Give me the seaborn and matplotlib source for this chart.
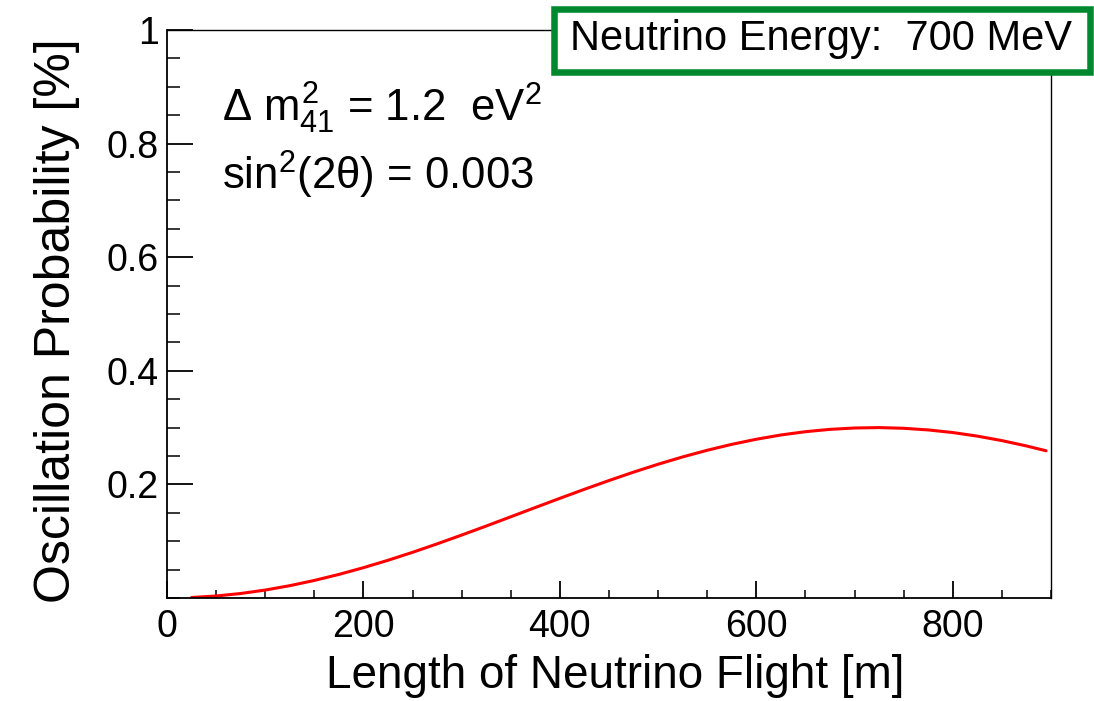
import matplotlib
matplotlib.use("Agg")
import matplotlib.pyplot as plt
from matplotlib.patches import Rectangle
from matplotlib.ticker import MultipleLocator, FixedLocator
import seaborn as sns
import pandas as pd

# ---- data ----
flight_length_m = [25, 50, 75, 100, 125, 150, 175, 200, 225, 250, 275, 300,
                   325, 350, 375, 400, 425, 450, 475, 500, 525, 550, 575, 600,
                   625, 650, 675, 700, 725, 750, 775, 800, 825, 850, 875, 895]
osc_prob_pct = [0.0009, 0.0035, 0.0079, 0.0140, 0.0217, 0.0309, 0.0415, 0.0534,
                0.0664, 0.0804, 0.0953, 0.1108, 0.1267, 0.1430, 0.1593, 0.1755,
                0.1914, 0.2068, 0.2216, 0.2355, 0.2484, 0.2601, 0.2705, 0.2795,
                0.2870, 0.2928, 0.2969, 0.2993, 0.3000, 0.2988, 0.2959, 0.2913,
                0.2850, 0.2771, 0.2677, 0.2592]
x_major_ticks = [0, 200, 400, 600, 800]
x_tick_labels = ["0", "200", "400", "600", "800"]
y_major_ticks = [0.2, 0.4, 0.6, 0.8, 1.0]
y_tick_labels = ["0.2", "0.4", "0.6", "0.8", "1"]
x_label = "Length of Neutrino Flight [m]"
y_label = "Oscillation Probability [%]"
energy_label = "Neutrino Energy:  700 MeV"
param_line1 = r"$\Delta\ m^{2}_{41}$ = 1.2  eV$^{2}$"
param_line2 = r"sin$^{2}$(2$\theta$) = 0.003"

df = pd.DataFrame({"L": flight_length_m, "P": osc_prob_pct})

sns.set_theme(style="white")
plt.rcParams["font.family"] = ["Liberation Sans", "DejaVu Sans"]
plt.rcParams["mathtext.fontset"] = "custom"
plt.rcParams["mathtext.rm"] = "Liberation Sans"
plt.rcParams["mathtext.it"] = "Liberation Sans"
plt.rcParams["mathtext.bf"] = "Liberation Sans:bold"
for key in ("text.color", "axes.labelcolor", "xtick.color", "ytick.color",
            "xtick.labelcolor", "ytick.labelcolor"):
    plt.rcParams[key] = "black"

W, H = 1094, 701
fig = plt.figure(figsize=(W / 100, H / 100), dpi=100)
fig.patch.set_facecolor("white")
ax = fig.add_axes([167 / W, 1 - 598 / H, (1051 - 167) / W, (598 - 30) / H])
ax.set_facecolor("white")

sns.lineplot(data=df, x="L", y="P", ax=ax, color="#ff0000", linewidth=2.2)

ax.set_xlim(0, 900)
ax.set_ylim(0, 1)

ax.xaxis.set_major_locator(FixedLocator(x_major_ticks))
ax.set_xticklabels(x_tick_labels)
ax.xaxis.set_minor_locator(MultipleLocator(50))
ax.yaxis.set_major_locator(FixedLocator(y_major_ticks))
ax.set_yticklabels(y_tick_labels)
ax.yaxis.set_minor_locator(MultipleLocator(0.05))

ax.tick_params(axis="x", which="major", direction="in", length=12.2, width=1.3,
               labelsize=27, pad=8, color="black", labelcolor="black",
               bottom=True, top=False)
ax.tick_params(axis="x", which="minor", direction="in", length=5.8, width=1.1,
               bottom=True, top=False, color="black")
ax.tick_params(axis="y", which="major", direction="in", length=18.7, width=1.3,
               labelsize=27, pad=6, color="black", labelcolor="black",
               left=True, right=False)
ax.tick_params(axis="y", which="minor", direction="in", length=9.4, width=1.1,
               left=True, right=False, color="black")

for side, sp in ax.spines.items():
    sp.set_visible(True)
    sp.set_color("black")
    sp.set_linewidth(1.3 if side in ("left", "bottom") else 1.0)

ax.set_xlabel(x_label, fontsize=33, ha="center", va="baseline", color="black")
ax.xaxis.set_label_coords((615 - 167) / 884, (598 - 688) / 568)
ax.set_ylabel(y_label, fontsize=36, ha="center", va="baseline", color="black")
ax.yaxis.set_label_coords((70 - 167) / 884, (598 - 321) / 568)

fig.text(222 / W, 1 - 122 / H, param_line1, fontsize=31.5, ha="left",
         va="baseline", color="black")
fig.text(222 / W, 1 - 190 / H, param_line2, fontsize=31.5, ha="left",
         va="baseline", color="black")

# green framed label box at top right
box = Rectangle((553.5 / W, 1 - 72 / H), (1089.5 - 553.5) / W, (72 - 8.5) / H,
                transform=fig.transFigure, facecolor="white", edgecolor="#00882e",
                linewidth=4.7, zorder=5)
fig.patches.append(box)
fig.text(821 / W, 1 - 50 / H, energy_label, fontsize=30, ha="center",
         va="baseline", color="black", zorder=6)

fig.savefig("out.png", dpi=100, facecolor="white")
